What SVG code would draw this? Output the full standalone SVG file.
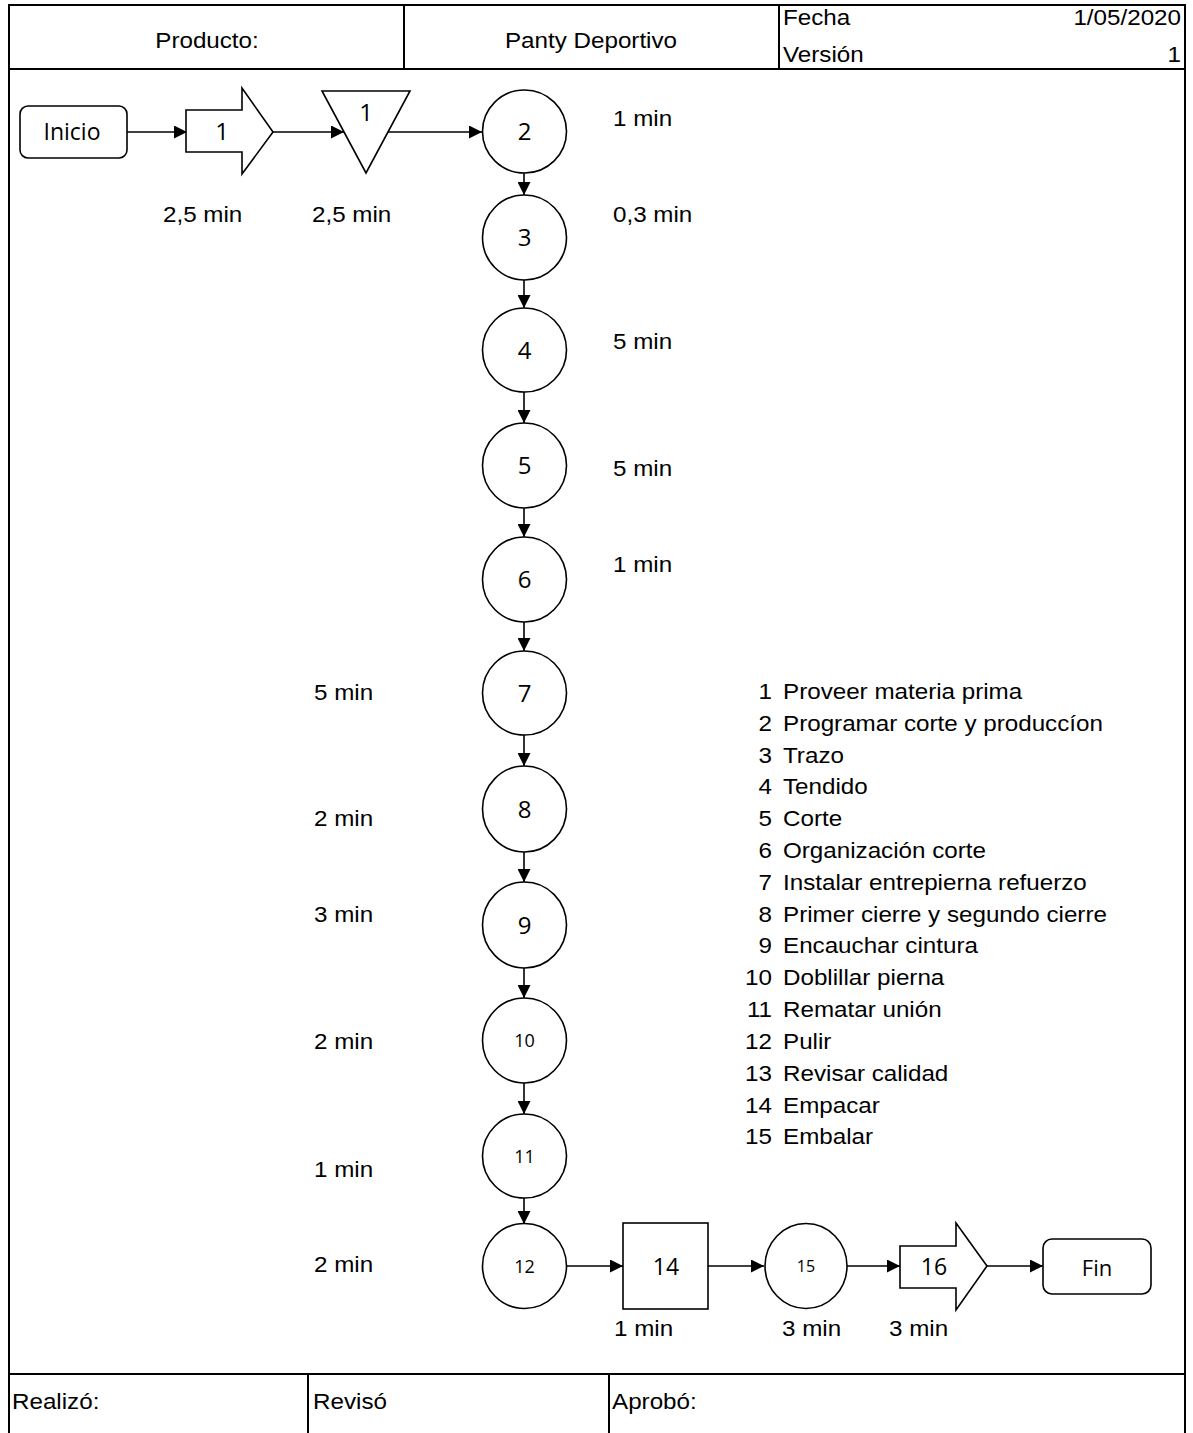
<svg xmlns="http://www.w3.org/2000/svg" width="1193" height="1433" viewBox="0 0 1193 1433">
<style>
.frame{stroke:#000;stroke-width:2;fill:none}
.shape{fill:#fff;stroke:#000;stroke-width:1.6}
.conn{stroke:#000;stroke-width:1.6;fill:none;marker-end:url(#ah)}
.lbl{font-family:"Liberation Sans",Arial,sans-serif;font-size:22px;fill:#000}
.node{font-family:"Open Sans","Noto Sans",sans-serif;font-size:24px;fill:#000;text-anchor:middle}
.s18{font-size:18px}
.s16{font-size:16px}
.s23{font-size:23px}
.s22{font-size:22px}
.end{text-anchor:end}
.mid{text-anchor:middle}
</style>
<defs>
<marker id="ah" markerUnits="userSpaceOnUse" markerWidth="13" markerHeight="13" refX="13" refY="6.5" orient="auto">
<path d="M0,0 L13,6.5 L0,13 z" fill="#000"/>
</marker>
</defs>
<rect width="1193" height="1433" fill="#fff"/>
<g id="frame">
<path class="frame" d="M9,1433 V5 H1185 V1433"/>
<path class="frame" d="M9,69 H1185 M404,5 V69 M779,5 V69"/>
<path class="frame" d="M9,1374 H1185 M308,1374 V1433 M609,1374 V1433"/>
</g>
<g id="header">
<text class="lbl mid" transform="translate(207,48) scale(1.1,1)">Producto:</text>
<text class="lbl mid" transform="translate(591,48) scale(1.1,1)">Panty Deportivo</text>
<text class="lbl" transform="translate(783,25) scale(1.1,1)">Fecha</text>
<text class="lbl" transform="translate(783,62) scale(1.1,1)">Versión</text>
<text class="lbl end" transform="translate(1181,25) scale(1.1,1)">1/05/2020</text>
<text class="lbl end" transform="translate(1181,62) scale(1.1,1)">1</text>
</g>
<g id="footer">
<text class="lbl" transform="translate(12,1409) scale(1.1,1)">Realizó:</text>
<text class="lbl" transform="translate(313,1409) scale(1.1,1)">Revisó</text>
<text class="lbl" transform="translate(612,1409) scale(1.1,1)">Aprobó:</text>
</g>
<g id="connectors">
<path class="conn" d="M127,132 H187"/>
<path class="conn" d="M273,132 H344"/>
<path class="conn" d="M388,132 H482"/>
<path class="conn" d="M524,173 V195"/>
<path class="conn" d="M524,280 V308"/>
<path class="conn" d="M524,392 V423"/>
<path class="conn" d="M524,508 V537"/>
<path class="conn" d="M524,622 V651"/>
<path class="conn" d="M524,735 V766"/>
<path class="conn" d="M524,852 V882"/>
<path class="conn" d="M524,968 V998"/>
<path class="conn" d="M524,1083 V1114"/>
<path class="conn" d="M524,1198 V1224"/>
<path class="conn" d="M567,1266 H623"/>
<path class="conn" d="M708,1266 H764"/>
<path class="conn" d="M847,1266 H900"/>
<path class="conn" d="M987,1266 H1043"/>
</g>
<g id="inicio">
<rect class="shape" x="20" y="106" width="107" height="52" rx="8"/>
<text class="node s23" x="72" y="140">Inicio</text>
</g>
<g id="transporte1">
<polygon class="shape" points="186,110 242,110 242,88 273,132 242,174 242,152 186,152"/>
<text class="node" x="222" y="140">1</text>
</g>
<g id="almacen1">
<polygon class="shape" points="322,91 410,91 366,173"/>
<text class="node" x="366" y="121">1</text>
</g>
<g id="op2"><ellipse class="shape" cx="524.5" cy="131.5" rx="42" ry="41.5"/><text class="node" x="524.5" y="140">2</text></g>
<g id="op3"><ellipse class="shape" cx="524.5" cy="237.5" rx="42" ry="42.5"/><text class="node" x="524.5" y="246">3</text></g>
<g id="op4"><ellipse class="shape" cx="524.5" cy="350" rx="42" ry="42"/><text class="node" x="524.5" y="358.5">4</text></g>
<g id="op5"><ellipse class="shape" cx="524.5" cy="465.5" rx="42" ry="42.5"/><text class="node" x="524.5" y="474">5</text></g>
<g id="op6"><ellipse class="shape" cx="524.5" cy="579.5" rx="42" ry="42.5"/><text class="node" x="524.5" y="588">6</text></g>
<g id="op7"><ellipse class="shape" cx="524.5" cy="693" rx="42" ry="42"/><text class="node" x="524.5" y="701.5">7</text></g>
<g id="op8"><ellipse class="shape" cx="524.5" cy="809" rx="42" ry="43"/><text class="node" x="524.5" y="817.5">8</text></g>
<g id="op9"><ellipse class="shape" cx="524.5" cy="925" rx="42" ry="43"/><text class="node" x="524.5" y="933.5">9</text></g>
<g id="op10"><ellipse class="shape" cx="524.5" cy="1040.5" rx="42" ry="42.5"/><text class="node s18" x="524.5" y="1047">10</text></g>
<g id="op11"><ellipse class="shape" cx="524.5" cy="1156" rx="42" ry="42"/><text class="node s18" x="524.5" y="1163">11</text></g>
<g id="op12"><ellipse class="shape" cx="524.5" cy="1266" rx="42" ry="42.5"/><text class="node s18" x="524.5" y="1273">12</text></g>
<g id="insp14">
<rect class="shape" x="623" y="1223" width="85" height="86"/>
<text class="node s23" x="666" y="1275">14</text>
</g>
<g id="op15"><ellipse class="shape" cx="806" cy="1266" rx="41" ry="42.5"/><text class="node s16" x="806" y="1272">15</text></g>
<g id="transporte16">
<polygon class="shape" points="900,1246 956,1246 956,1223 987,1266 956,1310 956,1288 900,1288"/>
<text class="node s23" x="934" y="1275">16</text>
</g>
<g id="fin">
<rect class="shape" x="1043" y="1239" width="108" height="55" rx="9"/>
<text class="node s22" x="1097" y="1276">Fin</text>
</g>
<g id="tiempos">
<text class="lbl" transform="translate(163,222) scale(1.1,1)">2,5 min</text>
<text class="lbl" transform="translate(312,222) scale(1.1,1)">2,5 min</text>
<text class="lbl" transform="translate(613,126) scale(1.1,1)">1 min</text>
<text class="lbl" transform="translate(613,222) scale(1.1,1)">0,3 min</text>
<text class="lbl" transform="translate(613,349) scale(1.1,1)">5 min</text>
<text class="lbl" transform="translate(613,476) scale(1.1,1)">5 min</text>
<text class="lbl" transform="translate(613,572) scale(1.1,1)">1 min</text>
<text class="lbl" transform="translate(314,700) scale(1.1,1)">5 min</text>
<text class="lbl" transform="translate(314,826) scale(1.1,1)">2 min</text>
<text class="lbl" transform="translate(314,922) scale(1.1,1)">3 min</text>
<text class="lbl" transform="translate(314,1049) scale(1.1,1)">2 min</text>
<text class="lbl" transform="translate(314,1177) scale(1.1,1)">1 min</text>
<text class="lbl" transform="translate(314,1272) scale(1.1,1)">2 min</text>
<text class="lbl" transform="translate(614,1336) scale(1.1,1)">1 min</text>
<text class="lbl" transform="translate(782,1336) scale(1.1,1)">3 min</text>
<text class="lbl" transform="translate(889,1336) scale(1.1,1)">3 min</text>
</g>
<g id="leyenda">
<text class="lbl end" transform="translate(772,699) scale(1.1,1)">1</text><text class="lbl" transform="translate(783,699) scale(1.1,1)">Proveer materia prima</text>
<text class="lbl end" transform="translate(772,731) scale(1.1,1)">2</text><text class="lbl" transform="translate(783,731) scale(1.1,1)">Programar corte y producc&#237;on</text>
<text class="lbl end" transform="translate(772,763) scale(1.1,1)">3</text><text class="lbl" transform="translate(783,763) scale(1.1,1)">Trazo</text>
<text class="lbl end" transform="translate(772,794) scale(1.1,1)">4</text><text class="lbl" transform="translate(783,794) scale(1.1,1)">Tendido</text>
<text class="lbl end" transform="translate(772,826) scale(1.1,1)">5</text><text class="lbl" transform="translate(783,826) scale(1.1,1)">Corte</text>
<text class="lbl end" transform="translate(772,858) scale(1.1,1)">6</text><text class="lbl" transform="translate(783,858) scale(1.1,1)">Organización corte</text>
<text class="lbl end" transform="translate(772,890) scale(1.1,1)">7</text><text class="lbl" transform="translate(783,890) scale(1.1,1)">Instalar entrepierna refuerzo</text>
<text class="lbl end" transform="translate(772,922) scale(1.1,1)">8</text><text class="lbl" transform="translate(783,922) scale(1.1,1)">Primer cierre y segundo cierre</text>
<text class="lbl end" transform="translate(772,953) scale(1.1,1)">9</text><text class="lbl" transform="translate(783,953) scale(1.1,1)">Encauchar cintura</text>
<text class="lbl end" transform="translate(772,985) scale(1.1,1)">10</text><text class="lbl" transform="translate(783,985) scale(1.1,1)">Doblillar pierna</text>
<text class="lbl end" transform="translate(772,1017) scale(1.1,1)">11</text><text class="lbl" transform="translate(783,1017) scale(1.1,1)">Rematar unión</text>
<text class="lbl end" transform="translate(772,1049) scale(1.1,1)">12</text><text class="lbl" transform="translate(783,1049) scale(1.1,1)">Pulir</text>
<text class="lbl end" transform="translate(772,1081) scale(1.1,1)">13</text><text class="lbl" transform="translate(783,1081) scale(1.1,1)">Revisar calidad</text>
<text class="lbl end" transform="translate(772,1113) scale(1.1,1)">14</text><text class="lbl" transform="translate(783,1113) scale(1.1,1)">Empacar</text>
<text class="lbl end" transform="translate(772,1144) scale(1.1,1)">15</text><text class="lbl" transform="translate(783,1144) scale(1.1,1)">Embalar</text>
</g>
</svg>
